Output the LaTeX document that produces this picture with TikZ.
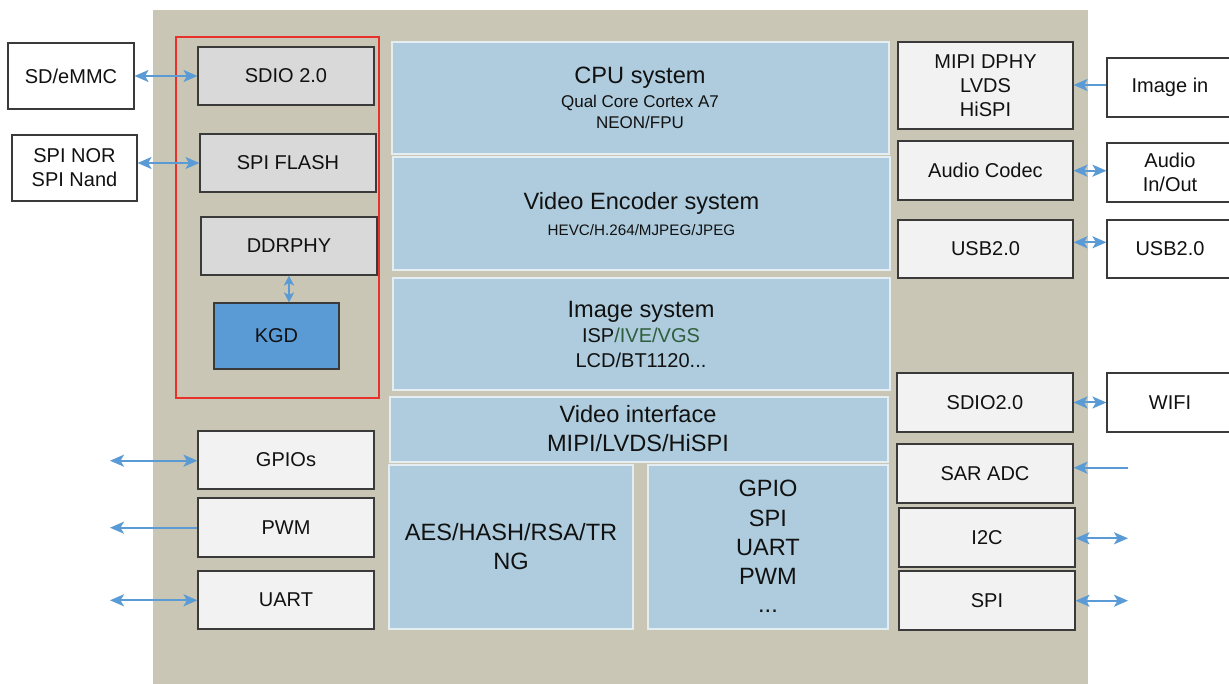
\documentclass[tikz,border=0pt]{standalone}
\usepackage{fontspec}
\setmainfont{Liberation Sans}
\usetikzlibrary{arrows.meta}
\definecolor{beige}{HTML}{C9C6B6}
\definecolor{blk}{HTML}{AECCDD}
\definecolor{blkline}{HTML}{E4EDF2}
\definecolor{boxline}{HTML}{3A3A3A}
\definecolor{greyA}{HTML}{D9D9D9}
\definecolor{greyB}{HTML}{F2F2F2}
\definecolor{kgdblue}{HTML}{5B9BD5}
\definecolor{arrowblue}{HTML}{5B9BD5}
\definecolor{redline}{HTML}{E8312B}
\definecolor{ivegreen}{HTML}{2F5E3C}
\definecolor{txt}{HTML}{111111}
\tikzset{
  basebox/.style={draw=boxline, line width=1.1pt, inner sep=0pt, align=center, text=txt,
    font=\fontsize{20}{24}\selectfont},
  intbox/.style={basebox, fill=greyA},
  iobox/.style={basebox, fill=greyB},
  extbox/.style={basebox, fill=white},
  kgdbox/.style={basebox, fill=kgdblue},
  block/.style={draw=blkline, line width=1.5pt, fill=blk, inner sep=0pt},
  big/.style={anchor=base, inner sep=0pt, text=txt, font=\fontsize{23.6}{28}\selectfont},
  mid/.style={anchor=base, inner sep=0pt, text=txt, font=\fontsize{17}{20}\selectfont},
  small/.style={anchor=base, inner sep=0pt, text=txt, font=\fontsize{15.2}{18}\selectfont},
  medium/.style={anchor=base, inner sep=0pt, text=txt, font=\fontsize{20}{24}\selectfont},
  conn/.style={draw=arrowblue, line width=2pt},
  both/.style={conn, {Stealth[length=14pt,width=12pt,inset=3.5pt]}-{Stealth[length=14pt,width=12pt,inset=3.5pt]}},
  bothsmall/.style={conn, {Stealth[length=10pt,width=10pt,inset=2.5pt]}-{Stealth[length=10pt,width=10pt,inset=2.5pt]}},
  toend/.style={conn, -{Stealth[length=14pt,width=12pt,inset=3.5pt]}},
}
\begin{document}
\begin{tikzpicture}[x=1pt,y=-1pt]
\useasboundingbox (0,0) rectangle (1229,684);
\begin{scope}
\clip (0,0) rectangle (1229,684);
% chip background
\fill[beige] (153,10) rectangle (1088,690);
% red group frame
\draw[redline, line width=1.3pt] (176,37) rectangle (379,398);

% central blocks
\node[block, minimum width=497, minimum height=112] (cpu) at (640.5,98) {};
\node[block, minimum width=497, minimum height=113] (venc) at (641.5,213.5) {};
\node[block, minimum width=497, minimum height=112] (isys) at (641.5,334) {};
\node[block, minimum width=498, minimum height=65] (vif) at (639,429.5) {};
\node[block, minimum width=244, minimum height=164] (aes) at (511,547) {};
\node[block, minimum width=240, minimum height=164] (periph) at (768,547) {};

\node[big] (cputitle) at (640,84) {CPU system};
\node[mid] (cpusub1) at (640,107.7) {Qual Core Cortex A7};
\node[mid] (cpusub2) at (640,128.3) {NEON/FPU};
\node[big] (venctitle) at (641.5,210) {Video Encoder system};
\node[small] (vencsub) at (641.5,235.3) {HEVC/H.264/MJPEG/JPEG};
\node[big] (isystitle) at (641,317.3) {Image system};
\node[medium] (isyssub1) at (641,342.3) {ISP{\color{ivegreen}/IVE/VGS}};
\node[medium] (isyssub2) at (641,367.3) {LCD/BT1120...};
\node[big] (viftitle) at (638,422.3) {Video interface};
\node[big] (vifsub) at (638,451.7) {MIPI/LVDS/HiSPI};
\node[big] (aes1) at (511,540.7) {AES/HASH/RSA/TR};
\node[big] (aes2) at (511,569.3) {NG};
\node[big] (p1) at (768,496.7) {GPIO};
\node[big] (p2) at (768,526) {SPI};
\node[big] (p3) at (768,555) {UART};
\node[big] (p4) at (768,584) {PWM};
\node[big] (p5) at (768,612.3) {...};

% left internal boxes
\node[intbox, minimum width=176, minimum height=58] (sdio) at (286,76) {SDIO 2.0};
\node[intbox, minimum width=176, minimum height=58] (spiflash) at (288,163) {SPI FLASH};
\node[intbox, minimum width=176, minimum height=58] (ddrphy) at (289,246) {DDRPHY};
\node[kgdbox, minimum width=125, minimum height=66] (kgd) at (276.5,336) {KGD};
\node[iobox, minimum width=176, minimum height=58] (gpios) at (286,460) {GPIOs};
\node[iobox, minimum width=176, minimum height=59] (pwm) at (286,527.5) {PWM};
\node[iobox, minimum width=176, minimum height=58] (uart) at (286,600) {UART};

% left external boxes
\node[extbox, minimum width=126, minimum height=66] (sdemmc) at (71,76) {SD/eMMC};
\node[extbox, minimum width=125, minimum height=66] (spinor) at (74.5,168) {SPI NOR\\SPI Nand};

% right internal boxes
\node[iobox, minimum width=175, minimum height=87] (mipi) at (985.5,85.5) {MIPI DPHY\\LVDS\\HiSPI};
\node[iobox, minimum width=175, minimum height=59] (audio) at (985.5,170.5) {Audio Codec};
\node[iobox, minimum width=175, minimum height=58] (usbl) at (985.5,249) {USB2.0};
\node[iobox, minimum width=176, minimum height=59] (sdio2) at (985,402.5) {SDIO2.0};
\node[iobox, minimum width=176, minimum height=59] (sar) at (985,473.5) {SAR ADC};
\node[iobox, minimum width=176, minimum height=59] (i2c) at (987,537.5) {I2C};
\node[iobox, minimum width=176, minimum height=59] (spi) at (987,600.5) {SPI};

% right external boxes
\node[extbox, minimum width=126, minimum height=59] (imgin) at (1170,87.5) {Image in};
\node[extbox, minimum width=126, minimum height=59] (audioio) at (1170,172.5) {Audio\\In/Out};
\node[extbox, minimum width=126, minimum height=58] (usbr) at (1170,249) {USB2.0};
\node[extbox, minimum width=126, minimum height=59] (wifi) at (1170,402.5) {WIFI};

% free ends
\coordinate (gpiosend) at (110,460.7);
\coordinate (pwmend) at (110,527.7);
\coordinate (uartend) at (110,600.3);
\coordinate (sarend) at (1128,467.7);
\coordinate (i2cend) at (1128,538.3);
\coordinate (spiend) at (1128,600.7);

% connectors
\draw[both] (sdemmc.east) -- (sdio.west);
\draw[both] (spinor.east |- spiflash.west) -- (spiflash.west);
\draw[bothsmall] (ddrphy.south) -- (ddrphy.south |- kgd.north);
\draw[both] (gpiosend) -- (gpiosend -| gpios.west);
\draw[toend] (pwmend -| pwm.west) -- (pwmend);
\draw[both] (uartend) -- (uartend -| uart.west);
\draw[toend] (imgin.west |- 0,85) -- (mipi.east |- 0,85);
\draw[both] (audio.east |- 0,170.7) -- (audioio.west |- 0,170.7);
\draw[both] (usbl.east |- 0,242.3) -- (usbr.west |- 0,242.3);
\draw[both] (sdio2.east) -- (wifi.west);
\draw[toend] (sarend) -- (sarend -| sar.east);
\draw[both] (i2cend -| i2c.east) -- (i2cend);
\draw[both] (spiend -| spi.east) -- (spiend);
\end{scope}
\end{tikzpicture}
\end{document}
